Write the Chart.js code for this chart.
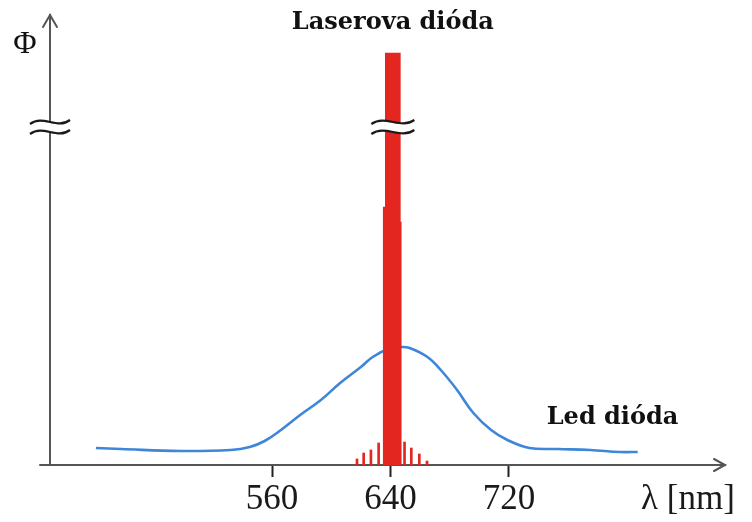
<!DOCTYPE html>
<html>
<head>
<meta charset="utf-8">
<script src="https://cdn.jsdelivr.net/npm/chart.js@4/dist/chart.umd.min.js"></script>
<style>
  html, body { margin: 0; padding: 0; background: #fff; }
  #wrap { width: 752px; height: 522px; }
</style>
</head>
<body>
<div id="wrap"><canvas id="chart"></canvas></div>
<script>
'use strict';

// LED spectrum: wavelength (nm) and relative flux
const ledWavelengths = [441, 458, 498, 532, 545, 555, 566, 579, 593, 606, 620, 628, 640, 647, 653, 665, 674, 685, 696, 708, 719, 734, 753, 775, 795, 807];
const ledFlux = [17, 16, 14, 15, 18, 24, 35, 50, 65, 82, 98, 108, 117, 118, 117, 108, 95, 75, 52, 35, 25, 17, 16, 15, 13, 13];

// laser main line (stepped column)
const laserWavelengths = [641.6, 640.2, 642.2];
const laserFlux = [412, 258, 243];

// laser side modes
const sideWavelengths = [617.4, 621.9, 626.8, 632.0, 649.5, 654.1, 659.5, 664.7];
const sideFlux = [6, 12, 15, 22, 23, 17, 11, 4];

// axis
const tickValues = [560, 640, 720];
const unitTickValue = 841;
const unitLabel = 'λ [nm]';
const fluxLabel = 'Φ';
const laserLabel = 'Laserova dióda';
const ledLabel = 'Led dióda';
const xMin = 410;
const xMax = 866;
const yMax = 450;
const breakValue = 338;
const laserLabelPos = { x: 641.6, y: 442 };
const ledLabelPos = { x: 790, y: 47 };

const axisColor = '#555';
const red = '#e3261f';
const blue = '#3d86d8';

function drawBreak(ctx, cx, cy, w) {
  const h = w / 2;
  const gap = 5;
  const wave = (oy, start) => {
    if (start) ctx.moveTo(cx - h, oy + 2);
    ctx.bezierCurveTo(cx - h / 3, oy - 8, cx + h / 3, oy + 8, cx + h, oy - 2);
  };
  ctx.save();
  // white gap between the two waves
  ctx.beginPath();
  wave(cy - gap, true);
  ctx.lineTo(cx + h, cy + gap - 2);
  ctx.bezierCurveTo(cx + h / 3, cy + gap + 8, cx - h / 3, cy + gap - 8, cx - h, cy + gap + 2);
  ctx.closePath();
  ctx.fillStyle = '#fff';
  ctx.fill();
  ctx.strokeStyle = '#1a1a1a';
  ctx.lineWidth = 2.2;
  ctx.beginPath();
  wave(cy - gap, true);
  ctx.stroke();
  ctx.beginPath();
  wave(cy + gap, true);
  ctx.stroke();
  ctx.restore();
}

const decorations = {
  id: 'decorations',
  afterDatasetsDraw(chart) {
    const { ctx, scales: { x, y } } = chart;
    const yb = y.getPixelForValue(breakValue);
    drawBreak(ctx, x.left, yb, 40);
    drawBreak(ctx, x.getPixelForValue(laserWavelengths[0]), yb, 43);
  },
  afterDraw(chart) {
    const { ctx, scales: { x, y } } = chart;
    const x0 = x.left;
    const yBase = y.bottom;
    ctx.save();
    ctx.strokeStyle = axisColor;
    ctx.lineWidth = 2;
    ctx.lineCap = 'round';
    // small stub of the x axis left of the y axis
    ctx.beginPath();
    ctx.moveTo(x0 - 10, yBase);
    ctx.lineTo(x0, yBase);
    ctx.stroke();
    // x arrow
    ctx.beginPath();
    ctx.moveTo(x.right - 11, yBase - 6);
    ctx.lineTo(x.right, yBase);
    ctx.lineTo(x.right - 11, yBase + 6);
    ctx.stroke();
    // y arrow
    ctx.beginPath();
    ctx.moveTo(x0 - 7, y.top + 12);
    ctx.lineTo(x0, y.top);
    ctx.lineTo(x0 + 7, y.top + 12);
    ctx.stroke();

    ctx.fillStyle = '#111';
    ctx.textAlign = 'center';
    ctx.textBaseline = 'middle';
    ctx.font = '32px "Liberation Serif", serif';
    ctx.fillText(fluxLabel, x0 - 25, y.top + 30);

    ctx.font = 'bold 24px "DejaVu Serif", serif';
    ctx.fillText(laserLabel, x.getPixelForValue(laserLabelPos.x), y.getPixelForValue(laserLabelPos.y));
    ctx.fillText(ledLabel, x.getPixelForValue(ledLabelPos.x), y.getPixelForValue(ledLabelPos.y));
    ctx.restore();
  },
};

const toPoints = (xs, ys) => xs.map((v, i) => ({ x: v, y: ys[i] }));

new Chart(document.getElementById('chart').getContext('2d'), {
  type: 'line',
  data: {
    datasets: [
      {
        label: 'LED',
        data: toPoints(ledWavelengths, ledFlux),
        borderColor: blue,
        borderWidth: 2.6,
        pointRadius: 0,
        tension: 0.4,
        fill: false,
        order: 3,
      },
      {
        type: 'bar',
        label: 'Laser',
        data: toPoints(laserWavelengths, laserFlux),
        backgroundColor: red,
        borderWidth: 0,
        barThickness: [11, 15, 13],
        grouped: false,
        order: 1,
      },
      {
        type: 'bar',
        label: 'Laser side modes',
        data: toPoints(sideWavelengths, sideFlux),
        backgroundColor: red,
        borderWidth: 0,
        barThickness: 2,
        grouped: false,
        order: 2,
      },
    ],
  },
  options: {
    responsive: true,
    maintainAspectRatio: false,
    animation: false,
    layout: { padding: { left: 50, right: 27, top: 15, bottom: 0 } },
    plugins: {
      legend: { display: false },
      tooltip: { enabled: false },
    },
    scales: {
      x: {
        type: 'linear',
        min: xMin,
        max: xMax,
        offset: false,
        afterBuildTicks: (axis) => {
          axis.ticks = tickValues.concat(unitTickValue).map((v) => ({ value: v }));
        },
        ticks: {
          autoSkip: false,
          maxRotation: 0,
          padding: 5,
          color: '#1a1a1a',
          font: { family: '"Liberation Serif", serif', size: 35, lineHeight: 1 },
          callback: (value) => (value === unitTickValue ? unitLabel : value),
        },
        grid: {
          offset: false,
          drawOnChartArea: false,
          tickLength: 12,
          tickWidth: 2,
          tickColor: (c) => (c.tick && c.tick.value === unitTickValue ? 'rgba(0,0,0,0)' : '#222'),
        },
        border: { display: true, color: axisColor, width: 2 },
      },
      y: {
        min: 0,
        max: yMax,
        ticks: { display: false },
        grid: { display: false, drawTicks: false },
        border: { display: true, color: axisColor, width: 2 },
      },
    },
  },
  plugins: [decorations],
});
</script>
</body>
</html>
